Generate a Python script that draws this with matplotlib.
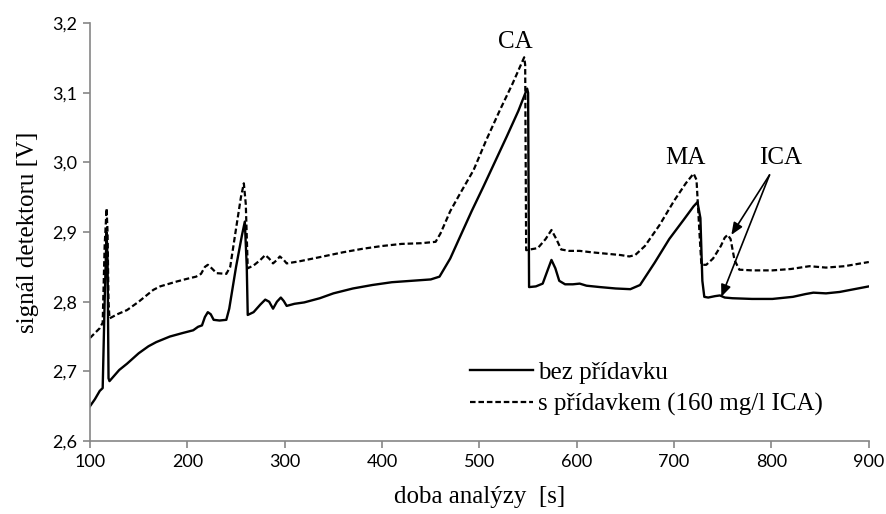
import numpy as np
import matplotlib
matplotlib.use('Agg')
import matplotlib.pyplot as plt
from matplotlib.ticker import FuncFormatter

# bez přídavku
t_bez = [100, 105, 110, 113, 115, 117, 118, 119, 120, 125, 130, 138, 150, 160, 168,
         182, 195, 206, 211, 215, 218, 221, 224, 227, 233, 240, 243, 250, 256, 259,
         261, 262, 268, 275, 280, 284, 288, 292, 296, 299, 302, 310, 320, 336, 350,
         370, 390, 410, 430, 450, 459, 470, 480, 492, 504, 516, 528, 540, 549, 550,
         551, 558, 565, 570, 574, 578, 582, 588, 596, 603, 610, 624, 640, 655, 665,
         680, 695, 710, 720, 724, 727, 729, 731, 735, 742, 747, 752, 760, 780, 801,
         822, 835, 843, 856, 870, 885, 900]
v_bez = [2.650, 2.660, 2.672, 2.676, 2.800, 2.900, 2.860, 2.690, 2.686, 2.694, 2.702,
         2.711, 2.726, 2.736, 2.742, 2.750, 2.755, 2.759, 2.764, 2.766, 2.778, 2.785,
         2.782, 2.774, 2.773, 2.774, 2.790, 2.850, 2.895, 2.915, 2.850, 2.781, 2.785,
         2.796, 2.803, 2.800, 2.790, 2.800, 2.806, 2.801, 2.794, 2.797, 2.799, 2.805,
         2.812, 2.819, 2.824, 2.828, 2.830, 2.832, 2.836, 2.862, 2.893, 2.930, 2.965,
         3.001, 3.037, 3.074, 3.106, 3.100, 2.821, 2.822, 2.826, 2.845, 2.860, 2.848,
         2.830, 2.825, 2.825, 2.826, 2.823, 2.821, 2.819, 2.818, 2.824, 2.856, 2.890,
         2.918, 2.937, 2.943, 2.920, 2.830, 2.807, 2.806, 2.808, 2.809, 2.806, 2.805,
         2.804, 2.804, 2.807, 2.811, 2.813, 2.812, 2.814, 2.818, 2.822]

# s přídavkem (160 mg/l ICA)
t_s = [100, 105, 110, 113, 115, 117, 118, 119, 120, 128, 138, 150, 165, 172, 189,
       200, 209, 214, 218, 221, 225, 230, 240, 244, 250, 255, 258, 260, 262, 268,
       275, 280, 284, 288, 292, 295, 299, 302, 315, 336, 360, 380, 400, 420, 440,
       455, 460, 470, 480, 494, 507, 521, 534, 546, 547, 548, 560, 568, 574, 579,
       584, 592, 603, 615, 630, 645, 654, 660, 670, 685, 700, 712, 720, 723, 726,
       728, 733, 740, 748, 752, 755, 758, 762, 767, 780, 801, 820, 839, 856, 875, 900]
v_s = [2.748, 2.755, 2.762, 2.770, 2.880, 2.934, 2.900, 2.800, 2.776, 2.782, 2.788,
       2.800, 2.817, 2.822, 2.829, 2.833, 2.836, 2.840, 2.850, 2.853, 2.848, 2.841,
       2.840, 2.850, 2.905, 2.950, 2.970, 2.940, 2.848, 2.852, 2.860, 2.867, 2.862,
       2.855, 2.860, 2.865, 2.860, 2.855, 2.858, 2.864, 2.871, 2.876, 2.880, 2.883,
       2.884, 2.886, 2.898, 2.930, 2.955, 2.989, 3.032, 3.075, 3.113, 3.151, 3.140,
       2.874, 2.877, 2.890, 2.903, 2.890, 2.875, 2.873, 2.873, 2.871, 2.869, 2.867,
       2.865, 2.867, 2.880, 2.910, 2.945, 2.970, 2.984, 2.975, 2.900, 2.853, 2.853,
       2.862, 2.880, 2.892, 2.896, 2.890, 2.860, 2.846, 2.845, 2.845, 2.847, 2.851,
       2.849, 2.851, 2.857]

serif = ['Liberation Serif', 'DejaVu Serif']
grey = '#868686'

fig = plt.figure(figsize=(8.87, 5.14), dpi=100)
ax = fig.add_axes([0.1015, 0.142, 0.878, 0.813])

ax.plot(t_bez, v_bez, color='black', lw=1.7, label='bez přídavku')
ax.plot(t_s, v_s, color='black', lw=1.6, linestyle=(0, (2.5, 1.3)),
        label='s přídavkem (160 mg/l ICA)')

ax.set_xlim(100, 900)
ax.set_ylim(2.6, 3.2)
ax.set_xticks(np.arange(100, 901, 100))
ax.set_yticks(np.arange(2.6, 3.21, 0.1))
ax.yaxis.set_major_formatter(FuncFormatter(lambda v, p: f'{v:.1f}'.replace('.', ',')))

for s in ['top', 'right']:
    ax.spines[s].set_visible(False)
for s in ['left', 'bottom']:
    ax.spines[s].set_color(grey)
    ax.spines[s].set_linewidth(1.2)
ax.tick_params(direction='out', length=5, width=1.2, color=grey, labelsize=13, pad=4)
for lab in ax.get_xticklabels() + ax.get_yticklabels():
    lab.set_family('Lato')

ax.set_xlabel('doba analýzy  [s]', family=serif, fontsize=18, labelpad=12)
ax.set_ylabel('signál detektoru [V]', family=serif, fontsize=18, labelpad=10)

ax.text(537, 3.173, 'CA', family=serif, fontsize=18, ha='center', va='center')
ax.text(712, 3.007, 'MA', family=serif, fontsize=18, ha='center', va='center')
ax.text(809, 3.007, 'ICA', family=serif, fontsize=18, ha='center', va='center')
for end in [(758.8, 2.896), (748.5, 2.807)]:
    ax.annotate('', xy=end, xytext=(798, 2.982),
                arrowprops=dict(arrowstyle='-|>,head_length=0.6,head_width=0.25',
                                color='black', lw=1.2,
                                mutation_scale=12, shrinkA=0, shrinkB=0))

ax.legend(loc='lower left', bbox_to_anchor=(0.472, 0.03), frameon=False,
          prop={'family': serif, 'size': 18}, handlelength=2.5,
          handletextpad=0.2, labelspacing=0.35, borderpad=0)

fig.savefig('out.png', dpi=100)
